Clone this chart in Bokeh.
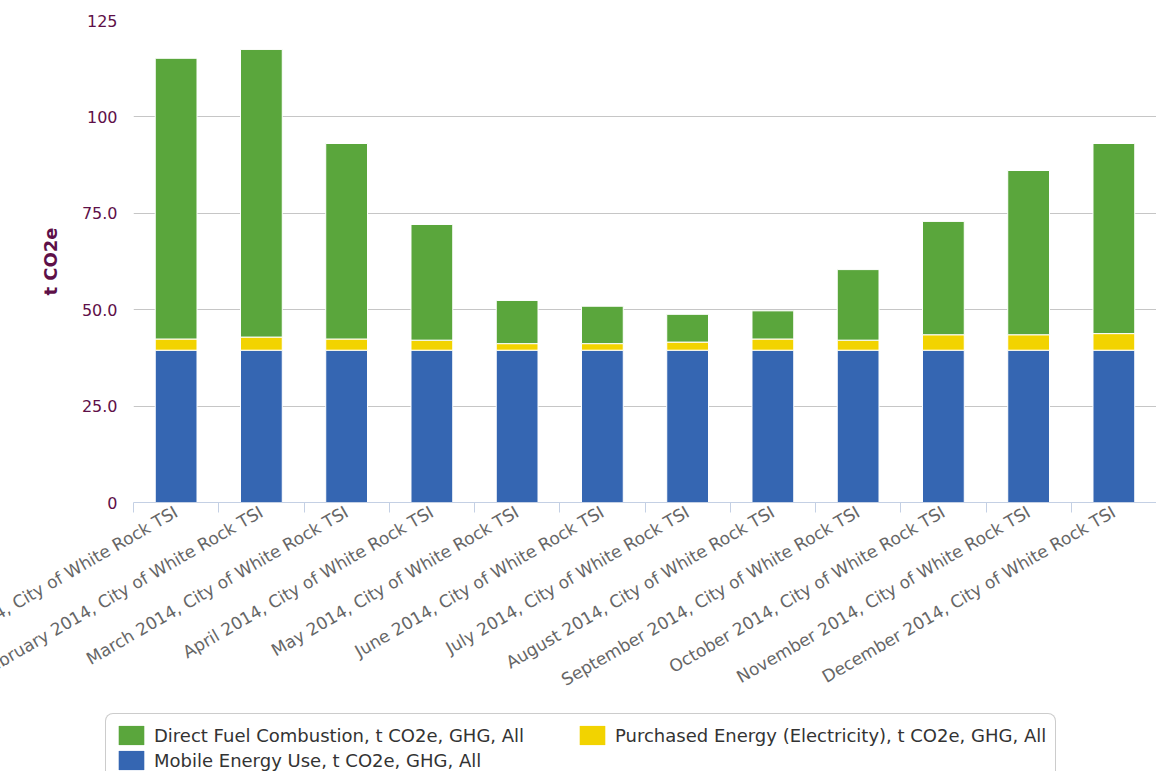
import numpy as np
from bokeh.plotting import figure
from bokeh.layouts import column
from bokeh.models import ColumnDataSource, FixedTicker, Legend, LegendItem, Range1d
from bokeh.embed import file_html
from bokeh.resources import INLINE

months = ["January 2014", "February 2014", "March 2014", "April 2014", "May 2014",
          "June 2014", "July 2014", "August 2014", "September 2014", "October 2014",
          "November 2014", "December 2014"]
org = "City of White Rock TSI"
categories = [f"{m}, {org}" for m in months]

mobile = [39.5, 39.5, 39.5, 39.5, 39.5, 39.5, 39.5, 39.5, 39.5, 39.5, 39.5, 39.5]
purchased = [2.9, 3.4, 2.9, 2.6, 1.7, 1.7, 2.1, 2.9, 2.6, 4.0, 4.0, 4.3]
direct = [72.8, 74.6, 50.7, 30.0, 11.2, 9.7, 7.2, 7.3, 18.3, 29.4, 42.6, 49.3]

series_names = ["Direct Fuel Combustion, t CO2e, GHG, All",
                "Purchased Energy (Electricity), t CO2e, GHG, All",
                "Mobile Energy Use, t CO2e, GHG, All"]
colors = {"direct": "#5aa63c", "purchased": "#f2d300", "mobile": "#3566b2"}

y_ticks = [0, 25, 50, 75, 100, 125]
y_tick_labels = ["0", "25.0", "50.0", "75.0", "100", "125"]

n = len(categories)
x = np.arange(n) + 0.5
src = ColumnDataSource(dict(x=x, mobile=mobile, purchased=purchased, direct=direct))
stack = ["mobile", "purchased", "direct"]

p = figure(frame_width=1023, frame_height=482, output_backend="svg", toolbar_location=None,
           x_range=Range1d(0, n), y_range=Range1d(0, 125),
           min_border_left=133, min_border_right=0, min_border_top=20,
           min_border_bottom=203)
p.outline_line_color = None
p.background_fill_color = "white"

rs = p.vbar_stack(stack, x="x", width=0.49, source=src,
                  color=[colors[s] for s in stack], line_color="white", line_width=1)

# x axis: labels at category centres, boundary ticks as minor ticks
bounds = list(range(n + 1))
p.xaxis.ticker = FixedTicker(ticks=[0.0] + list(x) + [float(n)], minor_ticks=bounds)
overrides = {float(xi): c for xi, c in zip(x, categories)}
overrides[0.0] = ""
overrides[float(n)] = ""
p.xaxis.major_label_overrides = overrides
p.xaxis.major_label_orientation = np.pi / 6
p.xaxis.major_tick_line_color = None
p.xaxis.minor_tick_line_color = "#c4d0e4"
p.xaxis.minor_tick_out = 10
p.xaxis.minor_tick_in = 0
p.xaxis.axis_line_color = "#c4d0e4"
p.xaxis.major_label_text_color = "#666666"
p.xaxis.major_label_text_font = "DejaVu Sans"
p.xaxis.major_label_text_font_size = "17px"
p.xaxis.major_label_standoff = -2
p.xgrid.grid_line_color = None

# y axis
p.yaxis.ticker = FixedTicker(ticks=y_ticks)
p.yaxis.major_label_overrides = {t: l for t, l in zip(y_ticks, y_tick_labels)}
p.yaxis.axis_line_color = None
p.yaxis.major_tick_line_color = None
p.yaxis.minor_tick_line_color = None
p.yaxis.major_label_text_color = "#5e1048"
p.yaxis.major_label_text_font = "DejaVu Sans"
p.yaxis.major_label_text_font_size = "16px"
p.yaxis.major_label_standoff = 10
p.yaxis.axis_label = "t CO2e"
p.yaxis.axis_label_text_color = "#5e1048"
p.yaxis.axis_label_text_font = "DejaVu Sans"
p.yaxis.axis_label_text_font_style = "bold"
p.yaxis.axis_label_text_font_size = "18px"
p.yaxis.axis_label_standoff = 18
p.ygrid.grid_line_color = "#c6c6c6"
p.ygrid.grid_line_width = 1

# legend strip below the chart: same series/data, drawn outside its view range
lf = figure(width=1156, height=66, output_backend="svg", toolbar_location=None,
            x_range=Range1d(-3, -2), y_range=Range1d(-3, -2),
            x_axis_type=None, y_axis_type=None, min_border=0)
lf.outline_line_color = None
lf.xgrid.grid_line_color = None
lf.ygrid.grid_line_color = None
legend_x = 0
if "frame_align" in lf.properties():
    lf.frame_align = False
    legend_x = 105
lrs = lf.vbar_stack(stack, x="x", width=0.49, source=src,
                    color=[colors[s] for s in stack], line_color=None)
lr = dict(zip(stack, lrs))

# column-major with 2 rows -> Direct, Mobile in col 1; Purchased in col 2
items = [LegendItem(label=series_names[0], renderers=[lr["direct"]]),
         LegendItem(label=series_names[2], renderers=[lr["mobile"]]),
         LegendItem(label=series_names[1], renderers=[lr["purchased"]])]
legend = Legend(items=items, location=(legend_x, -11), orientation="vertical", nrows=2,
                glyph_width=32, glyph_height=24, label_standoff=7, label_width=421,
                spacing=1, padding=9, margin=0,
                label_text_font="DejaVu Sans", label_text_font_size="18px",
                label_text_color="#333333", border_line_color="#999999",
                border_line_width=1.5, background_fill_color="white")
if "border_radius" in Legend.properties():
    legend.border_radius = 8
lf.add_layout(legend, "center")

layout = column(p, lf, spacing=0)
open("out.html", "w").write(file_html(layout, INLINE))
